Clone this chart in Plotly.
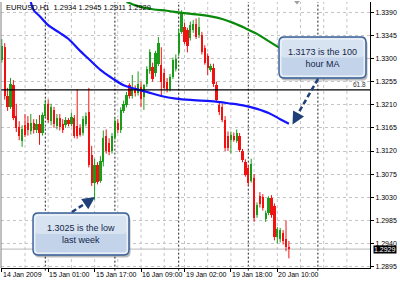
import plotly.graph_objects as go

# ---------------- data ----------------
opens = [1.3298,1.3323,1.3227,1.3206,1.3248,1.3188,1.3166,1.3140,1.3170,1.3175,
         1.3158,1.3175,1.3160,1.3172,1.3155,1.3188,1.3212,1.3178,1.3200,1.3168,
         1.3185,1.3172,1.3170,1.3180,1.3172,1.3184,1.3168,1.3165,1.3155,1.3172,
         1.3195,1.3112,1.3058,1.3092,1.3062,1.3098,1.3150,1.3135,1.3120,1.3148,
         1.3175,1.3160,1.3198,1.3210,1.3248,1.3228,1.3242,1.3232,1.3245,1.3226,
         1.3250,1.3275,1.3283,1.3272,1.3290,1.3288,1.3272,1.3255,1.3240,1.3265,
         1.3280,1.3310,1.3352,1.3362,1.3355,1.3340,1.3355,1.3368,1.3345,1.3345,
         1.3320,1.3305,1.3278,1.3282,1.3248,1.3210,1.3206,1.3180,1.3150,1.3142,
         1.3150,1.3140,1.3150,1.3120,1.3098,1.3086,1.3062,1.3068,1.2996,1.3032,
         1.3030,1.2988,1.3000,1.3028,1.3012,1.2952,1.2948,1.2960,1.2948,1.2934]
highs = [1.3338,1.3330,1.3243,1.3262,1.3258,1.3212,1.3178,1.3170,1.3192,1.3188,
         1.3192,1.3182,1.3182,1.3190,1.3195,1.3220,1.3220,1.3212,1.3206,1.3192,
         1.3192,1.3182,1.3186,1.3184,1.3195,1.3190,1.3240,1.3172,1.3188,1.3195,
         1.3243,1.3130,1.3105,1.3098,1.3110,1.3160,1.3162,1.3145,1.3155,1.3185,
         1.3182,1.3205,1.3218,1.3235,1.3252,1.3268,1.3248,1.3275,1.3255,1.3250,
         1.3285,1.3318,1.3292,1.3315,1.3342,1.3322,1.3280,1.3262,1.3270,1.3302,
         1.3308,1.3358,1.3394,1.3370,1.3360,1.3372,1.3375,1.3378,1.3380,1.3352,
         1.3326,1.3310,1.3290,1.3290,1.3255,1.3216,1.3212,1.3188,1.3158,1.3158,
         1.3156,1.3162,1.3155,1.3124,1.3104,1.3092,1.3105,1.3075,1.3020,1.3040,
         1.3036,1.3004,1.3032,1.3034,1.3018,1.2972,1.2970,1.2966,1.2985,1.2945]
lows = [1.3292,1.3220,1.3198,1.3202,1.3180,1.3157,1.3141,1.3128,1.3147,1.3150,
        1.3152,1.3154,1.3155,1.3132,1.3150,1.3185,1.3175,1.3170,1.3165,1.3162,
        1.3160,1.3155,1.3165,1.3168,1.3168,1.3145,1.3144,1.3148,1.3150,1.3168,
        1.3088,1.3052,1.3025,1.3055,1.3058,1.3090,1.3115,1.3112,1.3115,1.3142,
        1.3155,1.3155,1.3194,1.3205,1.3222,1.3222,1.3226,1.3228,1.3205,1.3200,
        1.3245,1.3270,1.3255,1.3265,1.3285,1.3225,1.3238,1.3234,1.3236,1.3260,
        1.3275,1.3305,1.3348,1.3328,1.3312,1.3335,1.3350,1.3338,1.3340,1.3308,
        1.3288,1.3268,1.3274,1.3245,1.3215,1.3190,1.3176,1.3120,1.3120,1.3115,
        1.3138,1.3136,1.3118,1.3098,1.3070,1.3052,1.3058,1.2982,1.2990,1.3010,
        1.3004,1.2982,1.2995,1.2990,1.2946,1.2940,1.2942,1.2938,1.2925,1.2911]
closes = [1.3325,1.3227,1.3206,1.3250,1.3185,1.3164,1.3150,1.3162,1.3152,1.3160,
          1.3175,1.3160,1.3172,1.3155,1.3190,1.3212,1.3180,1.3205,1.3172,1.3185,
          1.3166,1.3160,1.3180,1.3172,1.3186,1.3150,1.3150,1.3152,1.3182,1.3188,
          1.3092,1.3058,1.3092,1.3060,1.3100,1.3145,1.3120,1.3118,1.3150,1.3178,
          1.3160,1.3200,1.3212,1.3230,1.3228,1.3242,1.3232,1.3250,1.3222,1.3248,
          1.3280,1.3312,1.3260,1.3310,1.3330,1.3255,1.3242,1.3240,1.3265,1.3297,
          1.3300,1.3350,1.3388,1.3332,1.3325,1.3365,1.3368,1.3342,1.3362,1.3312,
          1.3292,1.3282,1.3286,1.3250,1.3220,1.3195,1.3180,1.3125,1.3125,1.3152,
          1.3142,1.3155,1.3122,1.3102,1.3074,1.3058,1.3095,1.2990,1.3014,1.3016,
          1.3010,1.3000,1.3028,1.2995,1.2952,1.2968,1.2966,1.2944,1.2934,1.2929]

ma100_bars = [10, 11, 13, 16, 20, 23, 27, 30, 34, 38, 42, 46, 50, 55, 60, 66, 72, 78, 84, 88, 92, 96, 99]
ma100_vals = [1.3410, 1.3394, 1.3383, 1.3365, 1.3350, 1.3338, 1.3315, 1.3299, 1.3278, 1.3262, 1.3248,
              1.3241, 1.3235, 1.3227, 1.3222, 1.3219, 1.3217, 1.3213, 1.3208, 1.3202, 1.3194, 1.3182, 1.3173]

ma200_bars = [43, 44, 47, 52, 57, 62, 67, 72, 76, 80, 84, 88, 92, 96, 99]
ma200_vals = [1.3410, 1.3408, 1.3402, 1.3396, 1.3393, 1.3389, 1.3386, 1.3382, 1.3377, 1.3369,
              1.3359, 1.3348, 1.3334, 1.3320, 1.3309]

fib_level = 1.3239
last_price = 1.2929

y_ticks = [1.2895, 1.2940, 1.2985, 1.3030, 1.3075, 1.3120, 1.3165, 1.3210, 1.3255, 1.3300, 1.3345, 1.3390]
x_label_bars = [0, 16, 32, 48, 63, 79, 95]
x_label_text = ["14 Jan 2009", "15 Jan 01:00", "15 Jan 17:00", "16 Jan 09:00",
                "19 Jan 02:00", "19 Jan 18:00", "20 Jan 10:00"]
x_grid_bars = [8, 16, 24, 32, 40, 48, 56, 63, 71, 79, 87, 95, 103, 111, 119]
day_separator_bars = [15, 39, 61, 85, 109]

title_text = "EURUSD,H1  1.2934 1.2945 1.2911 1.2929"
callout_ma = "1.3173 is the 100<br>hour MA"
callout_low = "1.3025 is the low<br>last week"

# ---------------- figure ----------------
UP, DOWN = "#1b9c1b", "#f01212"
bars = list(range(len(opens)))
colors = [UP if c >= o else DOWN for o, c in zip(opens, closes)]

fig = go.Figure()

# wicks
for col in (UP, DOWN):
    wx, wy = [], []
    for i, (h, l, c) in enumerate(zip(highs, lows, colors)):
        if c == col:
            wx += [i, i, None]
            wy += [l, h, None]
    fig.add_trace(go.Scatter(x=wx, y=wy, mode="lines", line=dict(color=col, width=1),
                             hoverinfo="skip", showlegend=False))

# bodies
fig.add_trace(go.Bar(x=bars, y=[c - o for o, c in zip(opens, closes)], base=opens,
                     width=0.8, marker=dict(color=colors, line=dict(width=0)),
                     hoverinfo="skip", showlegend=False))

# moving averages
fig.add_trace(go.Scatter(x=ma200_bars, y=ma200_vals, mode="lines",
                         line=dict(color="#0a8a0a", width=2.2, shape="spline"),
                         hoverinfo="skip", showlegend=False))
fig.add_trace(go.Scatter(x=ma100_bars, y=ma100_vals, mode="lines",
                         line=dict(color="#1414ff", width=2.2, shape="spline"),
                         hoverinfo="skip", showlegend=False))

L, R, T, B = 1, 30, 2, 14
W, H = 400, 282
PW, PH = W - L - R, H - T - B
x_min = (1 - 1.8) / 2.9
x_max = x_min + PW / 2.9


def pxx(px):
    return (px - L) / PW


def pxy(py):
    return (H - B - py) / PH


shapes = []
# vertical dotted grid
for b in x_grid_bars:
    shapes.append(dict(type="line", xref="x", yref="paper", x0=b, x1=b, y0=0, y1=1,
                       line=dict(color="#c4c4c4", width=1, dash="dot"), layer="between"))
# day separators
for b in day_separator_bars:
    shapes.append(dict(type="line", xref="x", yref="paper", x0=b, x1=b, y0=-0.01, y1=1,
                       line=dict(color="#202020", width=1, dash="2px,2px"), layer="between"))
# current price line
shapes.append(dict(type="line", xref="paper", yref="y", x0=0, x1=1, y0=last_price, y1=last_price,
                   line=dict(color="#b8b8b8", width=1), layer="between"))
# fibonacci 61.8 line
shapes.append(dict(type="line", xref="paper", yref="y", x0=0, x1=1, y0=fib_level, y1=fib_level,
                   line=dict(color="black", width=1.4), layer="above"))
# left border
shapes.append(dict(type="line", xref="paper", yref="paper", x0=0, x1=0, y0=0, y1=1,
                   line=dict(color="#808080", width=1)))
# chart shift marker
shapes.append(dict(type="path", xref="paper", yref="paper",
                   path=f"M {pxx(294):.4f},{pxy(1):.4f} L {pxx(300):.4f},{pxy(1):.4f} L {pxx(297):.4f},{pxy(4.5):.4f} Z",
                   fillcolor="#a0a0a0", line=dict(width=0)))


def rr(x0, y0, x1, y1, r):
    p = lambda x, y: f"{pxx(x):.5f},{pxy(y):.5f}"
    return (f"M {p(x0 + r, y0)} L {p(x1 - r, y0)} Q {p(x1, y0)} {p(x1, y0 + r)} "
            f"L {p(x1, y1 - r)} Q {p(x1, y1)} {p(x1 - r, y1)} L {p(x0 + r, y1)} "
            f"Q {p(x0, y1)} {p(x0, y1 - r)} L {p(x0, y0 + r)} Q {p(x0, y0)} {p(x0 + r, y0)} Z")


def callout(x0, y0, x1, y1):
    out = []
    out.append(dict(type="path", xref="paper", yref="paper", path=rr(x0 + 1.5, y0 + 2.5, x1 + 1.5, y1 + 2.5, 5),
                    fillcolor="rgba(60,60,60,0.35)", line=dict(width=0), layer="above"))
    out.append(dict(type="path", xref="paper", yref="paper", path=rr(x0, y0, x1, y1, 5),
                    fillcolor="#c3d4ea", line=dict(color="#3a6096", width=1.4), layer="above"))
    out.append(dict(type="path", xref="paper", yref="paper", path=rr(x0 + 2, y0 + 2, x1 - 2, y0 + (y1 - y0) * 0.5, 4),
                    fillcolor="rgba(255,255,255,0.35)", line=dict(width=0), layer="above"))
    out.append(dict(type="path", xref="paper", yref="paper", path=rr(x0 + 1.8, y0 + 1.8, x1 - 1.8, y1 - 1.8, 4),
                    fillcolor="rgba(0,0,0,0)", line=dict(color="rgba(255,255,255,0.8)", width=1.2), layer="above"))
    return out


shapes += callout(279, 37, 366, 78)
shapes += callout(33, 213, 129, 255)

# dashed arrow shafts
ARROW = "#1f3f78"
shapes.append(dict(type="line", xref="paper", yref="paper", x0=pxx(318), y0=pxy(79), x1=pxx(296), y1=pxy(117),
                   line=dict(color=ARROW, width=2.5, dash="5px,3px"), layer="above"))
shapes.append(dict(type="line", xref="paper", yref="paper", x0=pxx(72), y0=pxy(212), x1=pxx(89), y1=pxy(201),
                   line=dict(color=ARROW, width=2.5, dash="5px,3px"), layer="above"))

annotations = []
annotations.append(dict(text=title_text, xref="paper", yref="paper", x=pxx(4), y=pxy(7),
                        xanchor="left", yanchor="middle", showarrow=False,
                        font=dict(family="Arial", size=7.5, color="black")))
for b, t in zip(x_label_bars, x_label_text):
    annotations.append(dict(text=t, xref="x", yref="paper", x=b, y=0, yshift=-1,
                            xanchor="left", yanchor="top", showarrow=False, xshift=-1,
                            font=dict(family="Arial", size=7, color="black")))
annotations.append(dict(text="61.8", xref="paper", yref="y", x=1, y=fib_level, xshift=-2,
                        xanchor="right", yanchor="bottom", showarrow=False,
                        font=dict(family="Arial", size=6.5, color="#333333")))
annotations.append(dict(text="1.2929", xref="paper", yref="y", x=1, y=last_price, xshift=3,
                        xanchor="left", yanchor="middle", showarrow=False, bgcolor="black",
                        borderpad=0, font=dict(family="Arial", size=7, color="white")))
annotations.append(dict(text=callout_ma, xref="paper", yref="paper", x=pxx(322.5), y=pxy(57.5),
                        xanchor="center", yanchor="middle", showarrow=False,
                        font=dict(family="Arial", size=9, color="#14264a")))
annotations.append(dict(text=callout_low, xref="paper", yref="paper", x=pxx(81), y=pxy(234),
                        xanchor="center", yanchor="middle", showarrow=False,
                        font=dict(family="Arial", size=9, color="#14264a")))
# arrow heads
annotations.append(dict(text=" ", xref="paper", yref="paper", x=pxx(292.5), y=pxy(124.5),
                        ax=5, ay=-9, showarrow=True, arrowhead=2, arrowsize=1, arrowwidth=2.5,
                        arrowcolor=ARROW, font=dict(size=1)))
annotations.append(dict(text=" ", xref="paper", yref="paper", x=pxx(95), y=pxy(197),
                        ax=-8, ay=5.5, showarrow=True, arrowhead=2, arrowsize=1, arrowwidth=2.5,
                        arrowcolor=ARROW, font=dict(size=1)))

fig.update_layout(
    width=W, height=H, margin=dict(l=L, r=R, t=T, b=B),
    paper_bgcolor="white", plot_bgcolor="white", showlegend=False,
    shapes=shapes, annotations=annotations, bargap=0,
    xaxis=dict(range=[x_min, x_max], showgrid=False, zeroline=False,
               tickvals=x_label_bars, ticktext=[""] * len(x_label_bars),
               ticks="outside", ticklen=3, tickcolor="black",
               showline=True, linecolor="black", linewidth=1, fixedrange=True),
    yaxis=dict(side="right", range=[1.28922, 1.34101], tickvals=y_ticks,
               ticktext=[f"{v:.4f}" for v in y_ticks], ticks="outside", ticklen=3,
               tickcolor="black", showline=True, linecolor="black", linewidth=1,
               showgrid=True, gridcolor="#c4c4c4", griddash="dot", gridwidth=1,
               zeroline=False, tickfont=dict(family="Arial", size=7, color="black"),
               fixedrange=True),
)

fig.write_html("out.html")
